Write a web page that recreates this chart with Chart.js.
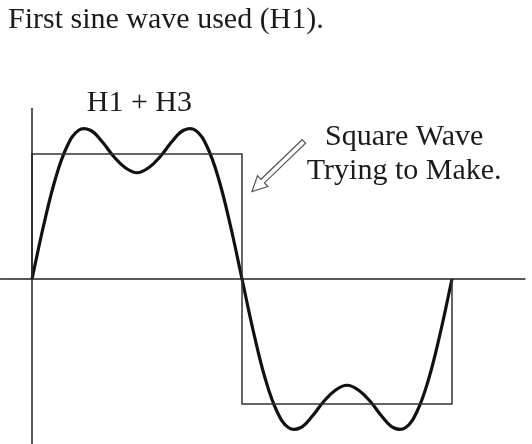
<!DOCTYPE html>
<html>
<head>
<meta charset="utf-8">
<script src="https://cdn.jsdelivr.net/npm/chart.js@4/dist/chart.umd.min.js"></script>
<style>
  html, body { margin: 0; padding: 0; background: #fff; }
  #wrap { width: 532px; height: 444px; }
</style>
</head>
<body>
<div id="wrap"><canvas id="waveChart" width="532" height="444"></canvas></div>
<script>
// phase in degrees over one full period
var degrees = [0, 10, 20, 30, 40, 50, 60, 70, 80, 90, 100, 110, 120, 130, 140, 150, 160, 170, 180,
               190, 200, 210, 220, 230, 240, 250, 260, 270, 280, 290, 300, 310, 320, 330, 340, 350, 360];
// H1 + H3 curve, square wave height = 1
var h1h3 = [0, 0.43, 0.80, 1.06, 1.19, 1.19, 1.10, 0.98, 0.89, 0.85, 0.89, 0.98, 1.10, 1.19, 1.19, 1.06, 0.80, 0.43, 0,
            -0.43, -0.80, -1.06, -1.19, -1.19, -1.10, -0.98, -0.89, -0.85, -0.89, -0.98, -1.10, -1.19, -1.19, -1.06, -0.80, -0.43, 0];
// square wave corners
var squareX = [0, 0, 180, 180, 360, 360];
var squareY = [0, 1, 1, -1, -1, 0];

var titleText = 'First sine wave used (H1).';
var curveLabel = 'H1 + H3';
var noteLines = ['Square Wave', 'Trying to Make.'];

function pts(xs, ys) {
    return xs.map(function (x, i) { return { x: x, y: ys[i] }; });
}

var annotate = {
    id: 'annotate',
    afterDatasetsDraw: function (chart) {
        var ctx = chart.ctx;
        var xs = chart.scales.x, ys = chart.scales.y;
        var px = function (v) { return xs.getPixelForValue(v); };
        var py = function (v) { return ys.getPixelForValue(v); };

        ctx.save();
        ctx.fillStyle = '#1a1a1a';
        ctx.font = '30px "Liberation Serif", "DejaVu Serif", serif';
        ctx.textBaseline = 'alphabetic';

        ctx.textAlign = 'left';
        ctx.fillText(titleText, 8, 28);

        ctx.textAlign = 'center';
        ctx.fillText(curveLabel, px(92), py(1.344));
        ctx.fillText(noteLines[0], px(319), py(1.072));
        ctx.fillText(noteLines[1], px(319), py(0.80));

        // hollow arrow pointing at the square wave
        var tx = px(233), ty = py(1.10);
        var hx = px(188.5), hy = py(0.70);
        var dx = hx - tx, dy = hy - ty;
        var len = Math.sqrt(dx * dx + dy * dy);
        var ux = dx / len, uy = dy / len;
        var nx = -uy, ny = ux;
        var sw = 2.5, hw = 7.5, hl = 15;
        var kx = hx - ux * hl, ky = hy - uy * hl;
        ctx.beginPath();
        ctx.moveTo(tx + nx * sw, ty + ny * sw);
        ctx.lineTo(kx + nx * sw, ky + ny * sw);
        ctx.lineTo(kx + nx * hw, ky + ny * hw);
        ctx.lineTo(hx, hy);
        ctx.lineTo(kx - nx * hw, ky - ny * hw);
        ctx.lineTo(kx - nx * sw, ky - ny * sw);
        ctx.lineTo(tx - nx * sw, ty - ny * sw);
        ctx.closePath();
        ctx.fillStyle = '#fff';
        ctx.fill();
        ctx.strokeStyle = '#555';
        ctx.lineWidth = 1.2;
        ctx.stroke();
        ctx.restore();
    }
};

new Chart(document.getElementById('waveChart').getContext('2d'), {
    type: 'line',
    data: {
        datasets: [
            {
                label: 'x axis',
                data: pts([-27.4, 423], [0, 0]),
                borderColor: '#222',
                borderWidth: 1.5,
                pointRadius: 0
            },
            {
                label: 'y axis',
                data: pts([0, 0], [1.37, -1.5]),
                borderColor: '#222',
                borderWidth: 1.5,
                pointRadius: 0
            },
            {
                label: 'Square wave',
                data: pts(squareX, squareY),
                borderColor: '#333',
                borderWidth: 1.5,
                pointRadius: 0,
                tension: 0
            },
            {
                label: curveLabel,
                data: pts(degrees, h1h3),
                borderColor: '#111',
                borderWidth: 3.2,
                pointRadius: 0,
                tension: 0.4
            }
        ]
    },
    options: {
        responsive: false,
        animation: false,
        layout: { padding: 0 },
        plugins: {
            legend: { display: false },
            tooltip: { enabled: false }
        },
        scales: {
            x: { type: 'linear', display: false, min: -27.43, max: 428.57 },
            y: { type: 'linear', display: false, min: -1.32, max: 2.232 }
        }
    },
    plugins: [annotate]
});
</script>
</body>
</html>
